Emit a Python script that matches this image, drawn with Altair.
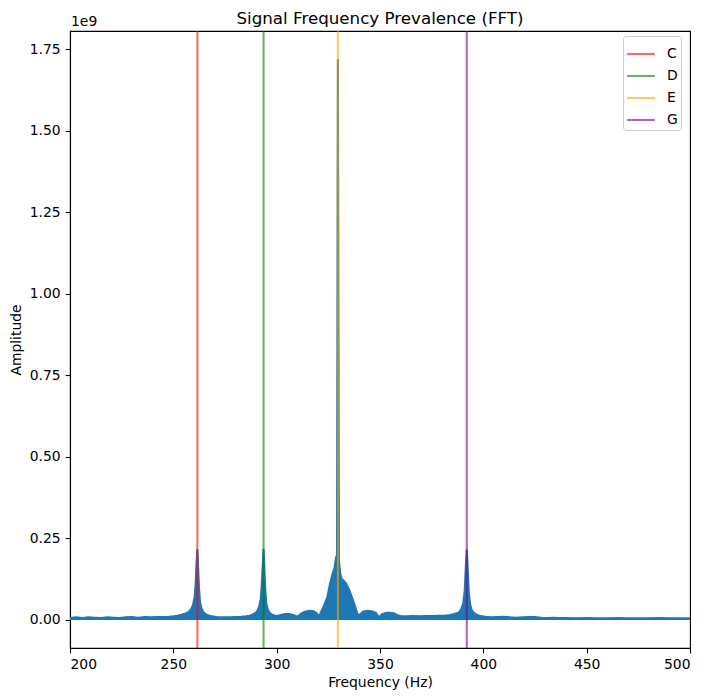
import altair as alt
import pandas as pd

# Spectrum envelope: frequency (Hz) and FFT amplitude (units of 1e9)
freq = [200.0, 203, 206, 209, 212, 215, 218, 221, 224, 227, 230, 233, 236, 239, 242, 245,
        248, 250, 252, 254, 256, 257.5, 258.5, 259.5, 260.3, 260.8, 261.2, 261.63, 262.0,
        262.4, 262.9, 263.6, 264.5, 266, 268, 271, 274, 277, 280, 283, 285, 287, 289, 290.5,
        291.5, 292.3, 292.8, 293.3, 293.66, 294.1, 294.5, 295.0, 295.7, 296.6, 298, 300, 302,
        304, 306, 308, 310, 312, 314, 316, 318, 319.5, 320.5, 321.5, 323, 324.5, 325.8, 327.0,
        328.0, 328.7, 329.2, 329.63, 330.1, 330.8, 331.5, 332.5, 333.5, 334.5, 335.5, 336.5,
        337.5, 338.5, 339.5, 340.5, 342, 344, 346, 348, 349.5, 351, 353, 355, 357, 358.5, 360,
        363, 366, 369, 372, 375, 378, 381, 384, 386, 388, 389.2, 390.3, 391.0, 391.5, 392.0,
        392.5, 393.0, 393.7, 394.5, 396, 398, 401, 404, 407, 410, 413, 416, 419, 422, 425, 428,
        431, 434, 437, 440, 445, 450, 455, 460, 465, 470, 475, 480, 485, 490, 495, 500]
amp = [0.006, 0.008, 0.006, 0.008, 0.007, 0.006, 0.008, 0.007, 0.006, 0.008, 0.009, 0.007,
       0.009, 0.008, 0.009, 0.009, 0.010, 0.011, 0.013, 0.016, 0.020, 0.025, 0.032, 0.045,
       0.070, 0.110, 0.170, 0.217, 0.160, 0.100, 0.055, 0.035, 0.024, 0.016, 0.012, 0.009,
       0.008, 0.008, 0.009, 0.010, 0.011, 0.013, 0.018, 0.026, 0.040, 0.065, 0.110, 0.170,
       0.218, 0.150, 0.090, 0.050, 0.032, 0.022, 0.015, 0.012, 0.015, 0.018, 0.018, 0.015,
       0.010, 0.020, 0.026, 0.028, 0.027, 0.020, 0.010, 0.025, 0.045, 0.070, 0.110, 0.140,
       0.160, 0.190, 0.200, 1.720, 0.180, 0.140, 0.125, 0.120, 0.112, 0.100, 0.085, 0.068,
       0.050, 0.030, 0.012, 0.018, 0.026, 0.028, 0.027, 0.022, 0.008, 0.018, 0.022, 0.022,
       0.020, 0.014, 0.012, 0.011, 0.012, 0.011, 0.012, 0.012, 0.013, 0.013, 0.015, 0.018,
       0.022, 0.032, 0.050, 0.090, 0.160, 0.216, 0.150, 0.080, 0.045, 0.028, 0.018, 0.013,
       0.010, 0.008, 0.009, 0.010, 0.008, 0.007, 0.008, 0.009, 0.009, 0.007, 0.006, 0.007,
       0.006, 0.006, 0.005, 0.006, 0.005, 0.005, 0.006, 0.005, 0.005, 0.005, 0.006, 0.005,
       0.005, 0.005]

# Musical note reference frequencies
notes = ["C", "D", "E", "G"]
note_freq = [261.63, 293.66, 329.63, 392.00]
note_colors = ["red", "green", "orange", "purple"]

spec = pd.DataFrame({"freq": freq, "amp": amp})
marks = pd.DataFrame({"note": notes, "f": note_freq})
scale_note = pd.DataFrame({"label": ["1e9"]})

FONT = "DejaVu Sans"
BLUE = "#1f77b4"
FS = 13.9  # 10 pt
LW = 2.08  # 1.5 pt

x_enc = alt.X("freq:Q", scale=alt.Scale(domain=[200, 500], nice=False, zero=False),
              axis=alt.Axis(title="Frequency (Hz)", values=[200, 250, 300, 350, 400, 450, 500],
                            format="d", titlePadding=4))
y_enc = alt.Y("amp:Q", scale=alt.Scale(domain=[-0.086, 1.806], nice=False, zero=False),
              axis=alt.Axis(title="Amplitude", values=[0, 0.25, 0.5, 0.75, 1.0, 1.25, 1.5, 1.75],
                            format=".2f", titlePadding=6))

area = alt.Chart(spec).mark_area(color=BLUE, opacity=1, clip=True).encode(
    x=x_enc, y=y_enc, y2=alt.datum(0)
)
line = alt.Chart(spec).mark_line(color=BLUE, strokeWidth=LW, clip=True).encode(
    x="freq:Q", y="amp:Q"
)

rules = alt.Chart(marks).mark_rule(strokeWidth=LW, opacity=0.6).encode(
    x="f:Q",
    color=alt.Color("note:N",
                    scale=alt.Scale(domain=notes, range=note_colors),
                    legend=alt.Legend(title=None, orient="none", legendX=553, legendY=5,
                                      symbolType="stroke", symbolSize=773,
                                      symbolStrokeWidth=LW, symbolOpacity=0.6,
                                      labelFont=FONT, labelFontSize=FS, labelColor="black",
                                      strokeColor="#cccccc", fillColor="white",
                                      cornerRadius=3, padding=3, rowPadding=-2,
                                      labelOffset=11)),
)

exponent = alt.Chart(scale_note).mark_text(
    font=FONT, fontSize=FS, fontWeight="normal", align="left",
    baseline="alphabetic", color="black"
).encode(text="label:N", x=alt.value(1), y=alt.value(-5))

chart = alt.layer(area, line, rules, exponent).properties(
    width=620,
    height=617,
    title=alt.Title("Signal Frequency Prevalence (FFT)", font=FONT, fontSize=16.7,
                    fontWeight="normal", color="black", offset=-13),
    autosize=alt.AutoSizeParams(type="none"),
    padding={"left": 70, "top": 31, "right": 24, "bottom": 52},
).configure_view(
    stroke="black", strokeWidth=1.1
).configure_axis(
    grid=False, labelFont=FONT, titleFont=FONT, labelFontSize=FS, titleFontSize=FS,
    labelColor="black", titleColor="black", titleFontWeight="normal",
    tickColor="black", tickSize=4.9, tickWidth=1.1, domainColor="black", domainWidth=1.1,
    labelPadding=4.9
)

chart.save("out.html", embed_options={"renderer": "svg", "actions": False})
